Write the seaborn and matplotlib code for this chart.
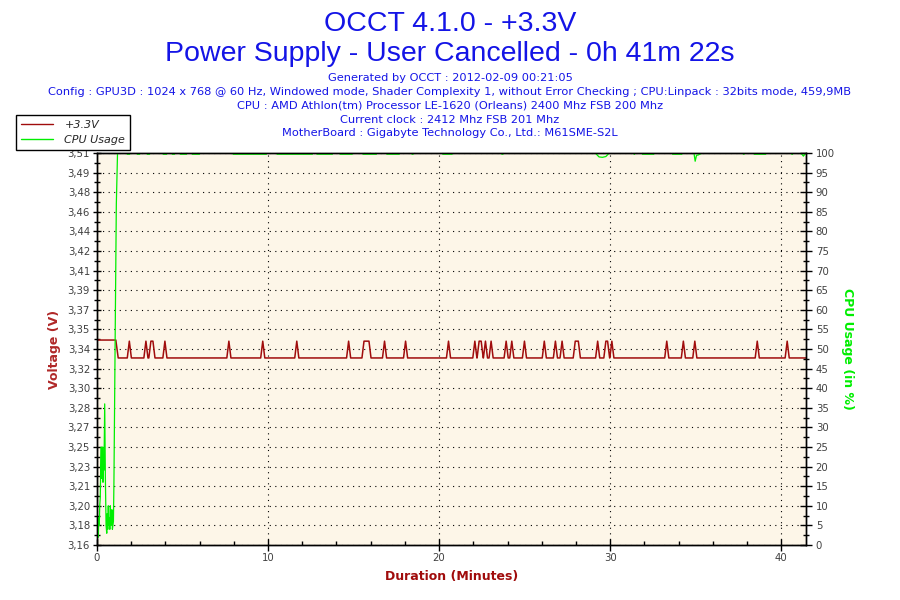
import numpy as np
import pandas as pd
import matplotlib
matplotlib.use('Agg')
import matplotlib.pyplot as plt
import seaborn as sns
from matplotlib.lines import Line2D
from matplotlib.ticker import FixedLocator, FixedFormatter, MultipleLocator

# --- data ---
duration_min = 41.45

# +3.3V rail: idle level until the load starts, then a baseline with short spikes
v_idle = 3.343
v_base = 3.327
v_high = 3.342
v_drop_start = 1.10
v_drop_end = 1.24
peak_times = [1.89, 2.86, 3.15, 3.27, 3.97, 7.71, 9.69, 11.68, 14.71, 15.61, 15.72,
              15.90, 16.81, 18.04, 20.55, 22.09, 22.34, 22.46, 22.71, 23.04, 23.92,
              24.25, 24.99, 26.15, 26.80, 27.19, 27.96, 28.14, 29.27, 29.75, 29.85,
              30.10, 33.31, 34.28, 34.95, 38.60, 40.35]
peak_half_width = 0.12

# CPU usage during the first minute (test warming up)
cpu_start_t = [0.06, 0.08, 0.10, 0.13, 0.16, 0.19, 0.22, 0.25, 0.27, 0.29, 0.31, 0.33,
               0.35, 0.37, 0.39, 0.41, 0.45, 0.49, 0.53, 0.57, 0.60, 0.63, 0.66, 0.69,
               0.72, 0.75, 0.78, 0.81, 0.84, 0.87, 0.90, 0.93, 0.96, 0.99, 1.03, 1.08,
               1.13, 1.20]
cpu_start_v = [5, 2, 7, 5, 10, 12, 20, 25, 17, 24, 18, 25, 16, 22, 19, 20, 36, 17, 5, 3,
               8, 4, 10, 5, 7, 4, 10, 5, 6, 9, 4, 5, 6, 16, 38, 62, 87, 100]
# stretches where CPU sits just under 100 %
cpu_flat_start = [1.75, 2.34, 2.92, 3.85, 4.38, 4.85, 5.55, 7.94, 10.51, 12.84, 14.19,
                  15.53, 16.93, 18.40, 20.20, 23.65, 31.38, 31.87, 33.63, 37.78, 38.41,
                  40.60]
cpu_flat_end = [1.93, 2.51, 3.09, 4.09, 4.55, 5.25, 6.01, 9.92, 12.61, 13.78, 14.94,
                16.35, 17.69, 18.50, 20.78, 23.75, 31.45, 32.57, 34.21, 37.85, 39.11,
                40.68]
cpu_flat_v = 99.7
# short dips later in the run
cpu_dip_t = [29.13, 29.35, 29.55, 29.75, 29.95, 34.90, 34.97, 35.05, 35.15, 35.38,
             41.15, 41.30, 41.40]
cpu_dip_v = [100, 99.0, 98.9, 99.1, 100, 100, 97.9, 99.4, 99.5, 100,
             100, 99.2, 99.8]

# axis labels
volt_tick_labels = ['3,16', '3,18', '3,20', '3,21', '3,23', '3,25', '3,27', '3,28', '3,30',
                    '3,32', '3,34', '3,35', '3,37', '3,39', '3,41', '3,42', '3,44', '3,46',
                    '3,48', '3,49', '3,51']
volt_min, volt_max = 3.16, 3.51

title_lines = ['OCCT 4.1.0 - +3.3V', 'Power Supply - User Cancelled - 0h 41m 22s']
info_lines = [
    'Generated by OCCT : 2012-02-09 00:21:05',
    'Config : GPU3D : 1024 x 768 @ 60 Hz, Windowed mode, Shader Complexity 1, without Error Checking ; CPU:Linpack : 32bits mode, 459,9MB',
    'CPU : AMD Athlon(tm) Processor LE-1620 (Orleans) 2400 Mhz FSB 200 Mhz',
    'Current clock : 2412 Mhz FSB 201 Mhz',
    'MotherBoard : Gigabyte Technology Co., Ltd.: M61SME-S2L',
]

# --- build the polylines ---
pts = {0.0: v_idle, v_drop_start: v_idle, v_drop_end: v_base, duration_min: v_base}
for p in peak_times:
    pts[p] = v_high
for p in peak_times:
    for q in (p - peak_half_width, p + peak_half_width):
        if all(abs(q - o) >= peak_half_width - 1e-6 for o in peak_times):
            pts[q] = v_base
volt = pd.DataFrame(sorted(pts.items()), columns=['t', 'v'])

cpu_t = list(cpu_start_t) + list(cpu_dip_t)
cpu_v = list(cpu_start_v) + list(cpu_dip_v)
for s, e in zip(cpu_flat_start, cpu_flat_end):
    cpu_t += [s, s + 0.02, e - 0.02, e]
    cpu_v += [100, cpu_flat_v, cpu_flat_v, 100]
cpu = pd.DataFrame({'t': cpu_t, 'v': cpu_v}).sort_values('t')

# --- plot ---
sns.set_style('ticks')
plt.rcParams['font.family'] = ['DejaVu Sans']

red = '#a00c0c'
green = '#00ee00'
blue = '#1414e6'
tick_grey = '#404040'

fig = plt.figure(figsize=(9, 6), dpi=100)
ax = fig.add_axes([97 / 900, 55 / 600, 709 / 900, 392 / 600])
ax.set_facecolor('#fdf6e8')
ax2 = ax.twinx()

sns.lineplot(data=volt, x='t', y='v', ax=ax, color=red, linewidth=1.1,
             estimator=None, sort=False)
sns.lineplot(data=cpu, x='t', y='v', ax=ax2, color=green, linewidth=0.9,
             estimator=None, sort=False)

ax.set_xlim(0, duration_min)
ax.set_ylim(volt_min, volt_max)
ax2.set_ylim(0, 100)

ax.xaxis.set_major_locator(MultipleLocator(10))
ax.xaxis.set_minor_locator(MultipleLocator(2))
volt_ticks = np.linspace(volt_min, volt_max, len(volt_tick_labels))
ax.yaxis.set_major_locator(FixedLocator(volt_ticks))
ax.yaxis.set_major_formatter(FixedFormatter(volt_tick_labels))
ax.yaxis.set_minor_locator(FixedLocator(np.linspace(volt_min, volt_max, 2 * len(volt_tick_labels) - 1)))
ax2.yaxis.set_major_locator(MultipleLocator(5))
ax2.yaxis.set_minor_locator(MultipleLocator(2.5))

ax.grid(True, which='major', color='black', linestyle=(0, (1, 4)), linewidth=0.8)

for spine in list(ax.spines.values()) + list(ax2.spines.values()):
    spine.set_color('black')
    spine.set_linewidth(1.0)
    spine.set_visible(True)

ax.tick_params(axis='y', which='major', direction='inout', length=6, width=1,
               colors='black', labelcolor=tick_grey, labelsize=7.3, pad=2)
ax.tick_params(axis='y', which='minor', direction='inout', length=4.3, width=1, colors='black')
ax.tick_params(axis='x', which='major', direction='inout', length=8, width=1,
               colors='black', labelcolor=tick_grey, labelsize=7.3, pad=2)
ax.tick_params(axis='x', which='minor', direction='in', length=2.7, width=1, colors='black')
ax2.tick_params(axis='y', which='major', direction='inout', length=8, width=1,
                colors='black', labelcolor=tick_grey, labelsize=7.3, pad=3)
ax2.tick_params(axis='y', which='minor', direction='inout', length=4.3, width=1, colors='black')

ax.set_xlabel('Duration (Minutes)', color=red, fontweight='bold', fontsize=9, labelpad=5)
ax.set_ylabel('Voltage (V)', color='#b02828', fontweight='bold', fontsize=9, labelpad=5)
ax2.set_ylabel('CPU Usage (in %)', color=green, fontweight='bold', fontsize=9,
               rotation=270, labelpad=14)

# header
title_font = ['Liberation Sans', 'DejaVu Sans']
fig.text(0.5, 1 - 31 / 600, title_lines[0], ha='center', va='baseline', color=blue,
         fontsize=20.5, family=title_font)
fig.text(0.5, 1 - 61 / 600, title_lines[1], ha='center', va='baseline', color=blue,
         fontsize=20.5, family=title_font)
for line, base in zip(info_lines, [81, 95, 109, 123, 136]):
    fig.text(0.5, 1 - base / 600, line, ha='center', va='baseline', color=blue,
             fontsize=8.2)

handles = [Line2D([], [], color=red, linewidth=1), Line2D([], [], color=green, linewidth=1)]
leg = fig.legend(handles, ['+3.3V', 'CPU Usage'], loc='upper left',
                 bbox_to_anchor=(16 / 900, 1 - 115 / 600), frameon=True, fancybox=False,
                 prop={'style': 'italic', 'size': 8}, handlelength=2.9, handletextpad=1.0,
                 borderpad=0.45, labelspacing=0.45, borderaxespad=0)
leg.get_frame().set_edgecolor('black')
leg.get_frame().set_linewidth(1.0)
leg.get_frame().set_alpha(1)
leg.set_zorder(10)

fig.savefig('out.png', dpi=100)
